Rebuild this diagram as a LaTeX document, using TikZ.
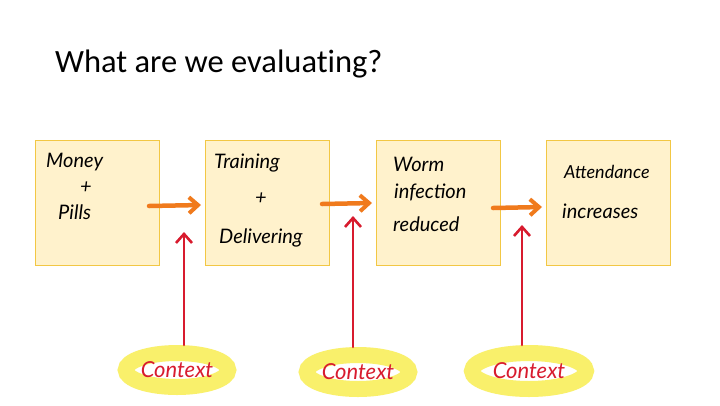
\documentclass[tikz,border=0pt]{standalone}
\usepackage{fontspec}
\setmainfont{Carlito}[Ligatures=NoCommon]
\newfontfamily\handfont{Lato Italic}
\usetikzlibrary{arrows.meta,shapes.geometric}
\definecolor{boxfill}{HTML}{FFF2CC}
\definecolor{boxline}{HTML}{F2C744}
\definecolor{flowarrow}{HTML}{F07A1C}
\definecolor{ctxarrow}{HTML}{D81B2E}
\definecolor{highlight}{HTML}{F9F06B}
\begin{document}
\begin{tikzpicture}[x=1pt,y=-1pt,
  stagebox/.style={draw=boxline,fill=boxfill,line width=1pt,minimum width=124pt,minimum height=125pt,anchor=north west,inner sep=0pt},
  hand/.style={font=\handfont\fontsize{20}{22}\selectfont,text=black,anchor=west,inner sep=0pt},
  flow/.style={draw=flowarrow,line width=4.5pt,line cap=round,-{Straight Barb[length=9pt,width=16pt,line width=4pt]}},
  ctx/.style={draw=ctxarrow,line width=2.6pt,line cap=round,-{Straight Barb[length=9pt,width=16pt,line width=2.6pt]}},
  ctxmark/.style={ellipse,draw=highlight,line width=16pt,inner sep=0pt,font=\handfont\fontsize{22}{24}\selectfont,text=ctxarrow}]
\useasboundingbox (0,0) rectangle (720,405);
\fill[white] (0,0) rectangle (720,405);

% title
\node[anchor=base west,font=\fontsize{32.5}{36}\selectfont,inner sep=0pt] (title) at (55,72) {What are we evaluating?};

% the four stages
\node[stagebox] (b1) at (35,140) {};
\node[stagebox] (b2) at (205,140) {};
\node[stagebox] (b3) at (376,140) {};
\node[stagebox] (b4) at (546,140) {};

\node[hand] (t1a) at (46,162) {Money};
\node[hand] (t1b) at (80,188) {+};
\node[hand] (t1c) at (58,212) {Pills};

\node[hand] (t2a) at (214,163) {Training};
\node[hand] (t2b) at (255,199) {+};
\node[hand] (t2c) at (219,238) {Delivering};

\node[hand] (t3a) at (393,164) {Worm};
\node[hand] (t3b) at (394,192) {infection};
\node[hand] (t3c) at (393,224) {reduced};

\node[hand,font=\handfont\fontsize{18}{20}\selectfont] (t4a) at (564,172) {Attendance};
\node[hand] (t4b) at (562,211) {increases};

% flow arrows between stages
\coordinate (f1s) at (149,206); \coordinate (f1e) at (201,205);
\coordinate (f2s) at (322,204); \coordinate (f2e) at (372,203);
\coordinate (f3s) at (493,208); \coordinate (f3e) at (542,207);
\draw[flow] (f1s) -- (f1e);
\draw[flow] (f2s) -- (f2e);
\draw[flow] (f3s) -- (f3e);

% context markers
\node[ctxmark,minimum width=92pt,minimum height=34pt] (c1) at (177,370) {Context};
\node[ctxmark,minimum width=94pt,minimum height=34pt] (c2) at (358,372) {Context};
\node[ctxmark,minimum width=114pt,minimum height=36pt] (c3) at (529,371) {Context};

\coordinate (k1) at (184,232);
\coordinate (k2) at (353,216);
\coordinate (k3) at (522,225);
\draw[ctx] (c1.north -| k1) -- (k1);
\draw[ctx] (c2.north -| k2) -- (k2);
\draw[ctx] (c3.north -| k3) -- (k3);
\end{tikzpicture}
\end{document}
